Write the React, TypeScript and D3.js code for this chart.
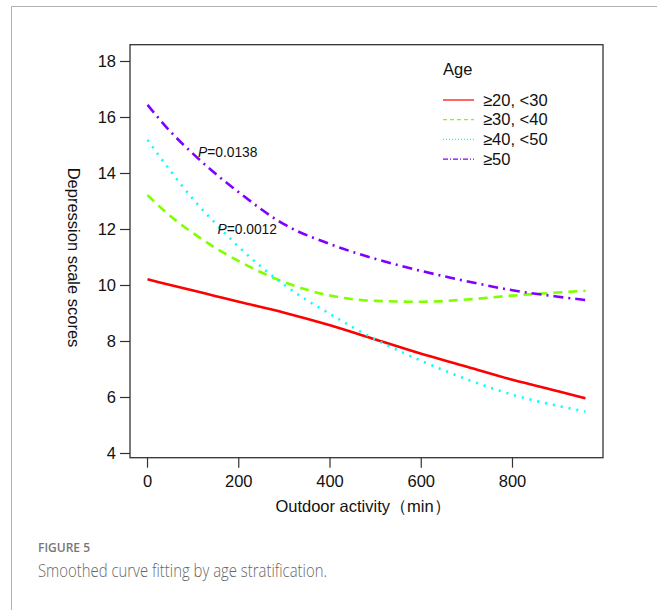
import * as d3 from "d3";

// outdoor activity (min) sampled along each smoothed curve
const xs = [0, 50, 100, 150, 200, 300, 400, 500, 600, 700, 800, 900, 960];
const age20 = [10.22, 10.02, 9.82, 9.62, 9.42, 9.03, 8.58, 8.07, 7.56, 7.1, 6.63, 6.22, 5.97];
const age30 = [13.23, 12.48, 11.87, 11.33, 10.87, 10.12, 9.64, 9.45, 9.42, 9.5, 9.64, 9.75, 9.81];
const age40 = [15.2, 14.1, 13.08, 12.2, 11.38, 10.02, 8.98, 8.07, 7.31, 6.65, 6.1, 5.7, 5.5];
const age50 = [16.45, 15.5, 14.7, 13.98, 13.33, 12.18, 11.48, 10.95, 10.52, 10.15, 9.83, 9.6, 9.48];

const groups = ["≥20, <30", "≥30, <40", "≥40, <50", "≥50"];
const colors = ["#ff0000", "#7fff00", "#00ffff", "#8000ff"];
const dashes = ["none", "9,6", "2,6", "10,5,2,5"];
const legendDashes = ["none", "4,3", "1,2", "5,2,1,2"];
const xTicks = [0, 200, 400, 600, 800];
const yTicks = [4, 6, 8, 10, 12, 14, 16, 18];

const font = "'Liberation Sans', Arial, sans-serif";

export default function App() {
  const W = 657, H = 610;
  const left = 130, right = 603, top = 44.7, bottom = 457.7;

  const x = d3.scaleLinear().domain([-38.4, 998.4]).range([left, right]);
  const y = d3.scaleLinear().domain([3.85, 18.6]).range([bottom, top]);

  const series = [age20, age30, age40, age50];
  const line = d3
    .line<number>()
    .x((_, i) => x(xs[i]))
    .y((d) => y(d))
    .curve(d3.curveMonotoneX);

  return (
    <svg width={W} height={H} style={{ position: "absolute", left: 0, top: 0, background: "#fff" }}>
      {/* outer figure frame */}
      <line x1={11.5} y1={6.5} x2={W} y2={6.5} stroke="#b0b0b0" />
      <line x1={11.5} y1={6.5} x2={11.5} y2={H} stroke="#b0b0b0" />

      {series.map((s, i) => (
        <path
          key={i}
          d={line(s) || ""}
          fill="none"
          stroke={colors[i]}
          strokeWidth={2.6}
          strokeDasharray={dashes[i]}
        />
      ))}

      <rect x={left} y={top} width={right - left} height={bottom - top} fill="none" stroke="#333" strokeWidth={1.3} />

      {/* y axis */}
      {yTicks.map((t) => (
        <g key={t}>
          <line x1={left - 10} x2={left} y1={y(t)} y2={y(t)} stroke="#333" strokeWidth={1.2} />
          <text x={left - 14} y={y(t)} dy="0.35em" textAnchor="end" fontFamily={font} fontSize={16.5} fill="#111">
            {t}
          </text>
        </g>
      ))}
      {/* x axis */}
      {xTicks.map((t) => (
        <g key={t}>
          <line x1={x(t)} x2={x(t)} y1={bottom} y2={bottom + 10} stroke="#333" strokeWidth={1.2} />
          <text x={x(t)} y={481} dy="0.35em" textAnchor="middle" fontFamily={font} fontSize={16.5} fill="#111">
            {t}
          </text>
        </g>
      ))}

      <text x={363} y={506} dy="0.35em" textAnchor="middle" fontFamily={font} fontSize={16.5} fill="#111">
        Outdoor activity（min）
      </text>
      <text
        transform="translate(74,257.5) rotate(90)"
        textAnchor="middle"
        dy="0.35em"
        fontFamily={font}
        fontSize={16.5}
        fill="#111"
      >
        Depression scale scores
      </text>

      {/* p values */}
      <text x={198} y={152} dy="0.35em" fontFamily={font} fontSize={13.8} fill="#111">
        <tspan fontStyle="italic">P</tspan>=0.0138
      </text>
      <text x={217.5} y={229.5} dy="0.35em" fontFamily={font} fontSize={13.8} fill="#111">
        <tspan fontStyle="italic">P</tspan>=0.0012
      </text>

      {/* legend */}
      <text x={443} y={69} dy="0.35em" fontFamily={font} fontSize={16.5} fill="#111">
        Age
      </text>
      {groups.map((g, i) => {
        const ly = 100 + i * 19.7;
        return (
          <g key={g}>
            <line x1={443} x2={474} y1={ly} y2={ly} stroke={colors[i]} strokeWidth={1.2} strokeDasharray={legendDashes[i]} />
            <text x={483} y={ly} dy="0.35em" fontFamily={font} fontSize={16.5} fill="#111">
              {g}
            </text>
          </g>
        );
      })}

      {/* caption */}
      <text x={38} y={548} dy="0.35em" fontFamily="'Open Sans', sans-serif" fontSize={12} fontWeight={600} fill="#777">
        FIGURE 5
      </text>
      <text
        x={38}
        y={571}
        dy="0.35em"
        fontFamily="'Open Sans', sans-serif"
        fontSize={17.5}
        fontWeight={300}
        fill="#666"
        textLength={289}
        lengthAdjust="spacingAndGlyphs"
      >
        Smoothed curve fitting by age stratification.
      </text>
    </svg>
  );
}
